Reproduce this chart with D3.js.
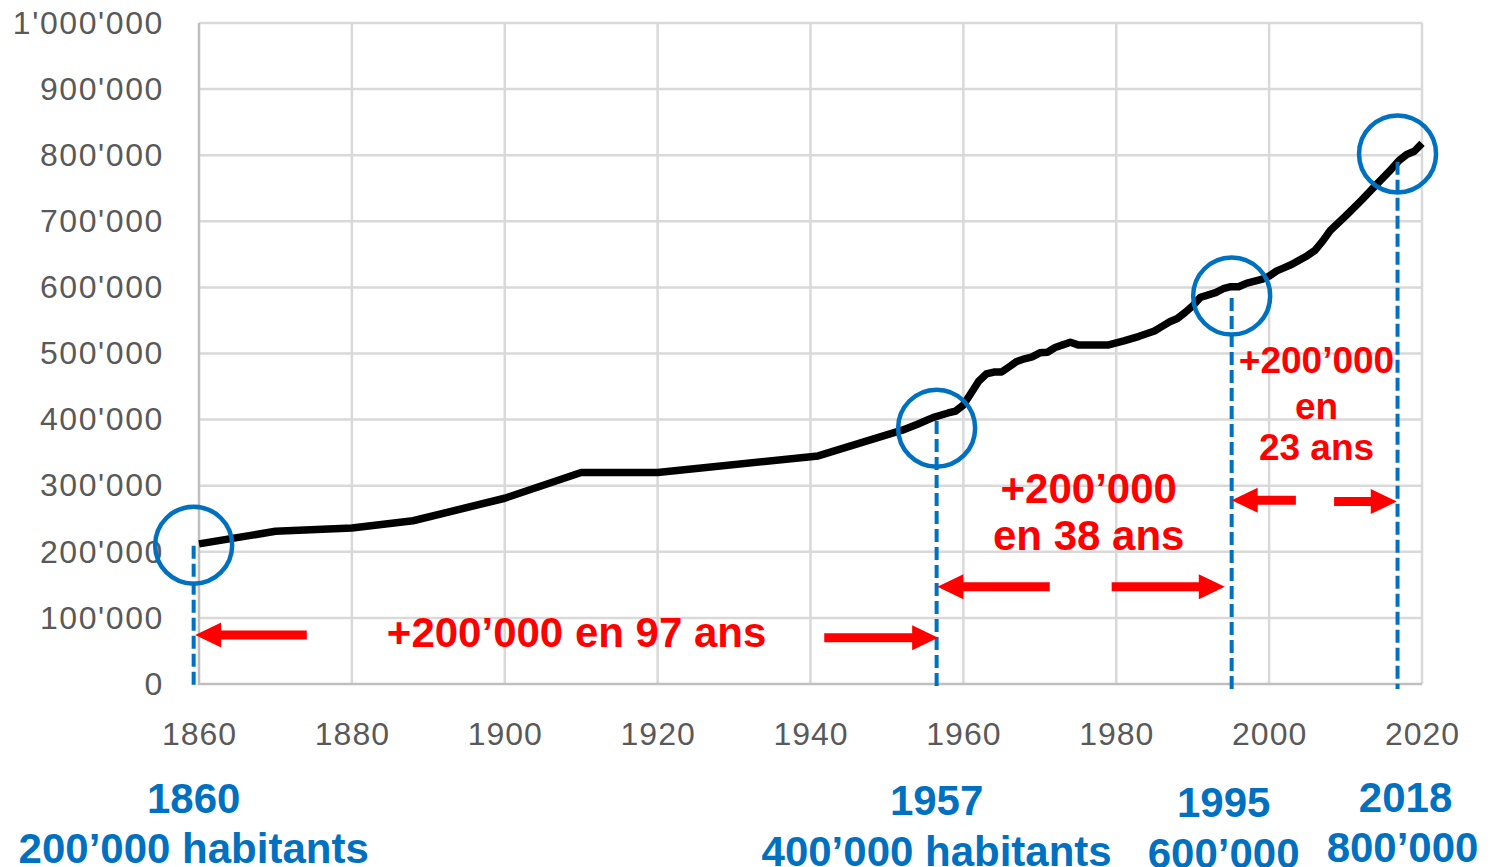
<!DOCTYPE html>
<html>
<head>
<meta charset="utf-8">
<script src="https://cdnjs.cloudflare.com/ajax/libs/d3/7.8.5/d3.min.js"></script>
<style>
    body { margin: 0; background: #fff; }
    svg { display: block; font-family: "Liberation Sans", Arial, sans-serif; }
    .tick-label { fill: #595959; font-size: 32px; }
    .red { fill: #ff0000; font-weight: bold; }
    .blue { fill: #0070c0; font-weight: bold; font-size: 42px; }
</style>
</head>
<body>
<svg id="chart" width="1493" height="867"></svg>
<script>
    // population
    const years = [1860, 1870, 1880, 1888, 1900, 1910, 1920, 1941, 1952, 1954, 1956, 1958, 1959,
        1960, 1961, 1962, 1963, 1964, 1965, 1966, 1967, 1968, 1969, 1970, 1971, 1972, 1973, 1974,
        1975, 1979, 1981, 1983, 1985, 1986, 1987, 1988, 1989, 1990, 1991, 1993, 1994, 1995, 1996,
        1997, 1999, 2000, 2001, 2002, 2003, 2005, 2006, 2007, 2008, 2010, 2012, 2014, 2016, 2017,
        2018, 2019, 2020];
    const population = [212000, 231000, 236000, 247000, 281000, 320000, 320000, 345000, 384000,
        393000, 403000, 410000, 413000, 422000, 440000, 458000, 469000, 472000, 472000, 480000,
        488000, 492000, 495000, 501000, 502000, 509000, 513000, 517000, 513000, 513000, 519000,
        526000, 534000, 541000, 548000, 553000, 562000, 572000, 585000, 592000, 598000, 601000,
        601000, 606000, 612000, 617000, 625000, 630000, 635000, 648000, 656000, 670000, 686000,
        708000, 731000, 755000, 779000, 792000, 801000, 806000, 818000];

    const xTicks = [1860, 1880, 1900, 1920, 1940, 1960, 1980, 2000, 2020];
    const yTicks = [0, 100000, 200000, 300000, 400000, 500000, 600000, 700000, 800000, 900000, 1000000];

    // milestones
    const milestoneYears = ["1860", "1957", "1995", "2018"];
    const milestoneLabels = ["200’000 habitants", "400’000 habitants", "600’000", "800’000"];
    const circleYears = [1859.3, 1956.5, 1995.1, 2016.8];
    const circleValues = [210000, 387000, 587000, 802000];
    const dashTops = [209000, 398000, 584000, 790000];

    // arrows: [tail year, tip year, value]
    const arrows = [
        [1874.1, 1859.5, 74000], [1941.8, 1956.7, 70000],
        [1971.3, 1956.6, 147000], [1979.4, 1994.2, 147000],
        [2003.5, 1995.1, 278000], [2008.5, 2016.7, 276000]
    ];

    const svg = d3.select('#chart');
    const x = d3.scaleLinear().domain([1860, 2020]).range([199, 1422]);
    const y = d3.scaleLinear().domain([0, 1000000]).range([684, 23]);
    const fmt = v => d3.format(',')(v).replace(/,/g, "'");

    // grid
    svg.append('g').selectAll('line').data(yTicks.slice(1)).join('line')
        .attr('x1', x(1860)).attr('x2', x(2020))
        .attr('y1', d => y(d)).attr('y2', d => y(d))
        .attr('stroke', '#d9d9d9').attr('stroke-width', 2.5);
    svg.append('g').selectAll('line').data(xTicks.slice(1)).join('line')
        .attr('x1', d => x(d)).attr('x2', d => x(d))
        .attr('y1', y(0)).attr('y2', y(1000000))
        .attr('stroke', '#d9d9d9').attr('stroke-width', 2.5);
    svg.append('path')
        .attr('d', `M${x(1860)},${y(1000000)}V${y(0)}H${x(2020)}`)
        .attr('fill', 'none').attr('stroke', '#bfbfbf').attr('stroke-width', 2.5);

    // axes labels
    const yAxis = d3.axisLeft(y).tickValues(yTicks).tickFormat(fmt).tickSize(0).tickPadding(35);
    const gy = svg.append('g').attr('transform', `translate(${x(1860)},0)`).call(yAxis);
    const xAxis = d3.axisBottom(x).tickValues(xTicks).tickFormat(d3.format('d')).tickSize(0).tickPadding(38);
    const gx = svg.append('g').attr('transform', `translate(0,${y(0)})`).call(xAxis);
    [gx, gy].forEach(g => {
        g.select('.domain').remove();
        g.selectAll('text').attr('class', 'tick-label').attr('font-family', null).attr('font-size', null);
    });
    gy.selectAll('text').attr('letter-spacing', 1.6);
    gx.selectAll('text').attr('letter-spacing', 1);

    // population line
    const line = d3.line().x((d, i) => x(years[i])).y(d => y(d));
    svg.append('path').datum(population)
        .attr('d', line)
        .attr('fill', 'none').attr('stroke', '#000').attr('stroke-width', 7.5)
        .attr('stroke-linejoin', 'round');

    // dashed markers and circles
    svg.append('g').selectAll('line').data(circleYears).join('line')
        .attr('x1', d => x(d)).attr('x2', d => x(d))
        .attr('y1', (d, i) => y(dashTops[i])).attr('y2', y(-7500))
        .attr('stroke', '#0070c0').attr('stroke-width', 4).attr('stroke-dasharray', '13 5');
    svg.append('g').selectAll('circle').data(circleYears).join('circle')
        .attr('cx', d => x(d)).attr('cy', (d, i) => y(circleValues[i]))
        .attr('r', 38.5)
        .attr('fill', 'none').attr('stroke', '#0070c0').attr('stroke-width', 4.5);

    // arrows
    svg.append('g').selectAll('path').data(arrows).join('path')
        .attr('d', d => {
            const x0 = x(d[0]), x1 = x(d[1]), yy = y(d[2]);
            const dir = Math.sign(x1 - x0), back = x1 - dir * 26;
            return `M${x0},${yy - 4.5}H${back}V${yy - 12.5}L${x1},${yy}L${back},${yy + 12.5}V${yy + 4.5}H${x0}Z`;
        })
        .attr('fill', '#ff0000');

    // red texts
    const red = (txt, yr, val, size) => svg.append('text').attr('class', 'red')
        .attr('x', x(yr)).attr('y', y(val)).attr('text-anchor', 'middle')
        .attr('font-size', size).text(txt);
    red('+200’000 en 97 ans', 1909.4, 56400, 42);
    red('+200’000', 1976.4, 274000, 42);
    red('en 38 ans', 1976.4, 203000, 42);
    red('+200’000', 2006.2, 470000, 37);
    red('en', 2006.2, 400500, 37);
    red('23 ans', 2006.2, 339000, 37);

    // blue milestone labels
    const labelY1 = [813, 815, 817, 812];
    const labelY2 = [863, 866, 868, 862];
    milestoneYears.forEach((yr, i) => {
        const cx = i === 3 ? x(circleYears[i]) + 8 : x(circleYears[i]) - (i === 2 ? 8 : 0);
        svg.append('text').attr('class', 'blue').attr('text-anchor', 'middle')
            .attr('x', cx).attr('y', labelY1[i]).text(yr);
        svg.append('text').attr('class', 'blue').attr('text-anchor', 'middle')
            .attr('x', cx - (i === 3 ? 3 : 0)).attr('y', labelY2[i]).text(milestoneLabels[i]);
    });
</script>
</body>
</html>
